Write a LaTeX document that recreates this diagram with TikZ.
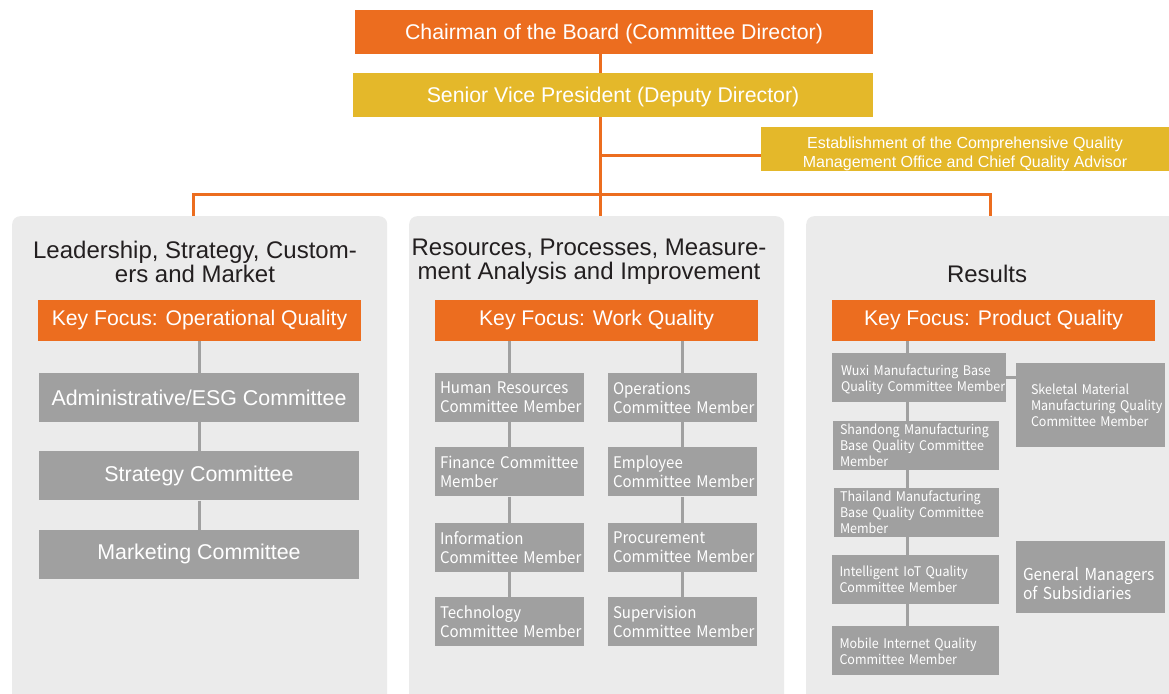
\documentclass[tikz,border=0pt]{standalone}
\usepackage{fontspec}
\setmainfont{Liberation Sans}
\newfontfamily\notofont[FakeStretch=0.94]{Noto Sans CJK SC}
\usepackage{tikz}
\usetikzlibrary{positioning}

\definecolor{mainorange}{HTML}{EC6D1F}
\definecolor{svpyellow}{HTML}{E4B82A}
\definecolor{panelgray}{HTML}{EBEBEB}
\definecolor{boxgray}{HTML}{A0A0A0}
\definecolor{titlegray}{HTML}{231F20}

\hyphenpenalty=10000
\exhyphenpenalty=10000

\begin{document}
\begin{tikzpicture}[x=1pt, y=-1pt,
    head/.style={text=white, inner sep=0pt, minimum height=44pt, font=\fontsize{21.3}{24}\selectfont,
        execute at begin node={\rule{0pt}{19.5pt}}},
    estbox/.style={fill=svpyellow, text=white, inner sep=0pt, minimum width=408pt, minimum height=44pt, align=center,
        font=\fontsize{16}{19}\selectfont},
    panel/.style={fill=panelgray, rounded corners=8pt, inner sep=0pt, anchor=north west, minimum width=375pt, minimum height=500pt},
    title/.style={text=titlegray, align=center, font=\fontsize{24}{24}\selectfont},
    focus/.style={fill=mainorange, text=white, inner sep=0pt, minimum width=323pt, minimum height=41pt, font=\fontsize{21.2}{24}\selectfont},
    bigbox/.style={fill=boxgray, text=white, inner sep=0pt, minimum width=320pt, minimum height=49pt, font=\fontsize{21.4}{24}\selectfont},
    member/.style={fill=boxgray, text=white, align=left, inner xsep=5pt, inner ysep=0pt, text width=139pt, minimum height=49pt, font=\notofont\fontsize{16}{19}\selectfont},
    small/.style={member, inner xsep=7pt, text width=152pt, font=\notofont\fontsize{13.3}{16}\selectfont},
    spine/.style={draw=mainorange, line width=3pt},
    link/.style={draw=boxgray, line width=3pt}]

    \useasboundingbox (0,0) rectangle (1169,693);

    % Pannelli
    \begin{scope}
        \clip (0,0) rectangle (1169,693);
        \node[panel] (pl) at (12,216) {};
        \node[panel] (pm) at (409,216) {};
        \node[panel] (pr) at (806,216) {};
    \end{scope}

    % Vertice
    \node[head, fill=mainorange, minimum width=518pt] (chair) at (614,32) {Chairman of the Board (Committee Director)};
    \node[head, fill=svpyellow, minimum width=520pt] (svp) at (613,95) {Senior Vice President (Deputy Director)};
    \node[estbox] (est) at (965,149)
        {\rule{0pt}{21.7pt}Establishment of the Comprehensive Quality\\Management Office and Chief Quality Advisor};

    \coordinate (hub) at (600,194);
    \coordinate (jl) at (193,194);
    \coordinate (jr) at (990,194);

    \draw[spine] (chair.south -| hub) -- (svp.north -| hub);
    \draw[spine] (svp.south -| hub) -- (hub |- pm.north);
    \draw[spine] ([yshift=-6pt]est.west) -- ([yshift=-6pt]est.west -| hub);
    \draw[spine] (jl |- pl.north) -- (jl) -- (jr) -- (jr |- pr.north);

    % Colonna sinistra
    \node[title] (tl) at (195,262) {Leadership, Strategy, Custom-\\ers and Market};
    \node[focus] (kfl) at (199.5,320.5) {Key Focus: Operational Quality};
    \node[bigbox] (adm) at (199,397.5) {Administrative/ESG Committee};
    \node[bigbox, below=29pt of adm] (stg) {Strategy Committee};
    \node[bigbox, below=29pt of stg] (mkt) {Marketing Committee};

    \foreach \a/\b in {kfl/adm, adm/stg, stg/mkt}{
        \draw[link] (\a.south -| \b.north) -- (\b.north);
    }

    % Colonna centrale
    \node[title] (tm) at (589,262) {Resources, Processes, Measure-\\ment Analysis and Improvement};
    \node[focus] (kfm) at (596.5,320.5) {Key Focus: Work Quality};

    \node[member] (hr) at (509.5,397.5) {Human Resources\\Committee~Member};
    \node[member, below=25pt of hr] (fin) {Finance Committee\\Member};
    \node[member, below=26pt of fin] (inf) {Information\\Committee~Member};
    \node[member, below=25pt of inf] (tec) {Technology\\Committee~Member};

    \node[member] (ops) at (682.5,397.5) {Operations\\Committee~Member};
    \node[member, below=25pt of ops] (emp) {Employee\\Committee~Member};
    \node[member, below=26pt of emp] (prc) {Procurement\\Committee~Member};
    \node[member, below=25pt of prc] (sup) {Supervision\\Committee~Member};

    \foreach \a/\b in {kfm/hr, hr/fin, fin/inf, inf/tec, kfm/ops, ops/emp, emp/prc, prc/sup}{
        \draw[link] (\a.south -| \b.north) -- (\b.north);
    }

    % Colonna destra
    \node[title] (tr) at (987,274) {Results};
    \node[focus] (kfr) at (993.5,320.5) {Key Focus: Product Quality};

    \node[small, text width=156pt, inner xsep=9pt] (wuxi) at (919,377.5) {\rule{0pt}{16.1pt}Wuxi Manufacturing Base\\Quality~Committee~Member};
    \node[small] (shd) at (916,445.5) {Shandong Manufacturing\\Base Quality Committee\\Member};
    \node[small, text width=153pt, inner xsep=6pt] (thai) at (916.5,512.5) {Thailand Manufacturing\\Base Quality Committee\\Member};
    \node[small, inner xsep=7.5pt, text width=152pt] (iot) at (915.5,579.5) {Intelligent IoT Quality\\Committee Member};
    \node[small, inner xsep=7.5pt, text width=152pt] (mob) at (915.5,650.5) {\rule{0pt}{12pt}Mobile Internet Quality\\Committee Member};

    \node[small, text width=119pt, inner xsep=15pt, minimum height=84pt] (skel) at (1090.5,405) {Skeletal Material\\Manufacturing~Quality\\Committee Member};
    \node[small, text width=135pt, inner xsep=7pt, minimum height=72pt, font=\notofont\fontsize{16.5}{19}\selectfont] (gm) at (1090.5,577) {\rule{0pt}{25.5pt}General Managers\\of Subsidiaries};

    \coordinate (rs) at (907,341);
    \foreach \a/\b in {kfr/wuxi, wuxi/shd, shd/thai, thai/iot, iot/mob}{
        \draw[link] (\a.south -| rs) -- (\b.north -| rs);
    }
    \draw[link] (wuxi.east) -- (wuxi.east -| skel.west);
\end{tikzpicture}
\end{document}
